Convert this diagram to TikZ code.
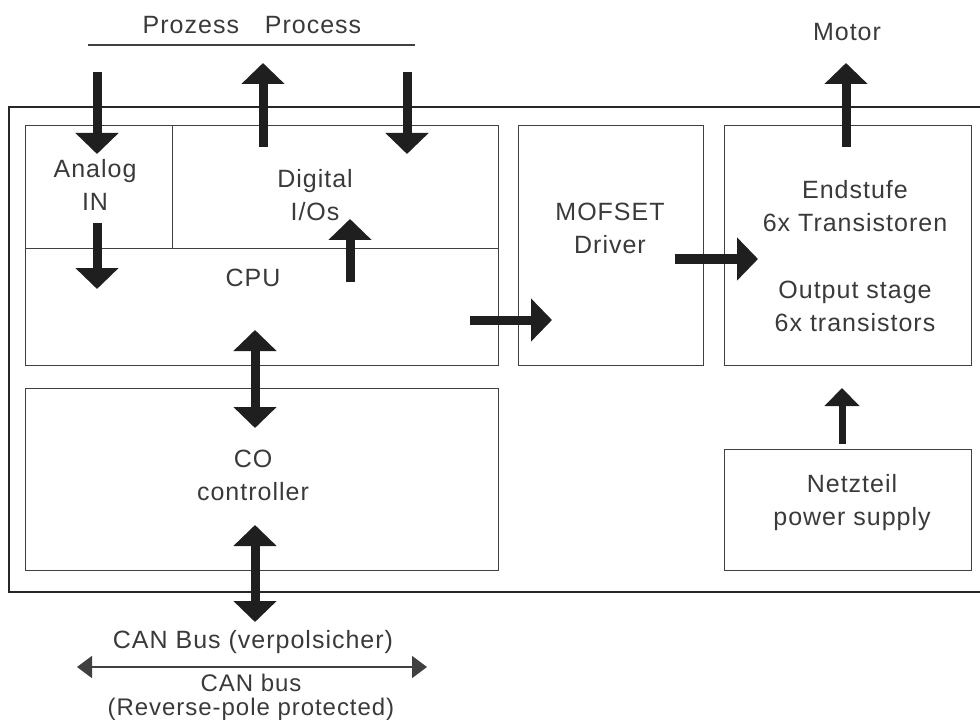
\documentclass[tikz,border=0pt]{standalone}
\usepackage{fontspec}
\setmainfont[LetterSpace=4]{Liberation Sans}
\usetikzlibrary{arrows.meta}
\definecolor{txtgray}{HTML}{3A3A3A}
\definecolor{linegray}{HTML}{404040}
\tikzset{
  x=1pt, y=-1pt,
  blockbox/.style={draw=linegray, line width=1.4pt, inner sep=0pt, anchor=north west, fill=none},
  lbl/.style={font=\fontsize{25}{33}\selectfont, text=txtgray, align=center, inner sep=0pt},
  fatarrow/.style={line width=9pt, draw=black!88, -{Triangle[width=42pt,length=21pt]}},
  fatdbl/.style={line width=9pt, draw=black!88, {Triangle[width=42pt,length=21pt]}-{Triangle[width=42pt,length=21pt]}},
  smallarrow/.style={line width=7pt, draw=black!88, -{Triangle[width=34pt,length=18pt]}},
  thinbus/.style={line width=1.5pt, draw=linegray, {Triangle[width=22pt,length=15pt]}-{Triangle[width=22pt,length=15pt]}},
}
\begin{document}
\begin{tikzpicture}
\useasboundingbox (0,0) rectangle (980,722);
% outer housing (open to the right)
\draw[draw=black!85, line width=2pt] (985,107) -- (9,107) -- (9,592) -- (985,592);

% boxes
\node[blockbox, minimum width=147pt, minimum height=123pt] (analog) at (25,125) {};
\node[blockbox, minimum width=326pt, minimum height=123pt] (digital) at (172,125) {};
\node[blockbox, minimum width=473pt, minimum height=117pt] (cpu) at (25,248) {};
\node[blockbox, minimum width=473pt, minimum height=182pt] (co) at (25,388) {};
\node[blockbox, minimum width=185pt, minimum height=240pt] (mos) at (518,125) {};
\node[blockbox, minimum width=247pt, minimum height=240pt] (end) at (724,125) {};
\node[blockbox, minimum width=247pt, minimum height=121pt] (psu) at (724,449) {};

% texts
\node[lbl] (tproc) at (252,25) {Prozess\hspace{18pt} Process};
\coordinate (pl) at (88,45);
\coordinate (pr) at (415,45);
\draw[draw=linegray, line width=1.2pt] (pl) -- (pr);
\node[lbl] (tmotor) at (847,32) {Motor};
\node[lbl] (tanalog) at (95,185) {Analog\\IN};
\node[lbl] (tdig) at (315,195) {Digital\\I/Os};
\node[lbl] (tcpu) at (253,278) {CPU};
\node[lbl] (tco) at (253,475) {CO\\controller};
\node[lbl] (tmos) at (610,228) {MOFSET\\Driver};
\node[lbl] (tend) at (855,206) {Endstufe\\6x Transistoren};
\node[lbl] (tout) at (855,306) {Output stage\\6x transistors};
\node[lbl] (tpsu) at (852,503) {Netzteil\\power supply};
\node[lbl] (tcan1) at (253,642) {CAN Bus (verpolsicher)};
\node[lbl, font=\fontsize{24}{24}\selectfont] (tcan2) at (251,697) {CAN bus\\(Reverse-pole protected)};

% arrow end points
\coordinate (a1s) at (97,72);   \coordinate (a1e) at (97,154);
\coordinate (a2s) at (263,147); \coordinate (a2e) at (263,63);
\coordinate (a3s) at (407,72);  \coordinate (a3e) at (407,154);
\coordinate (a4s) at (97,223);  \coordinate (a4e) at (97,289);
\coordinate (a5s) at (350,282); \coordinate (a5e) at (350,219);
\coordinate (a6s) at (255,330); \coordinate (a6e) at (255,428);
\coordinate (a7s) at (255,525); \coordinate (a7e) at (255,622);
\coordinate (a8s) at (470,320); \coordinate (a8e) at (552,320);
\coordinate (a9s) at (675,259); \coordinate (a9e) at (758,259);
\coordinate (a10s) at (846,147); \coordinate (a10e) at (846,63);
\coordinate (a11s) at (842,444); \coordinate (a11e) at (842,388);
\coordinate (bl) at (77,667);   \coordinate (br) at (427,667);

% arrows
\draw[fatarrow] (a1s) -- (a1e);
\draw[fatarrow] (a2s) -- (a2e);
\draw[fatarrow] (a3s) -- (a3e);
\draw[fatarrow] (a4s) -- (a4e);
\draw[fatarrow] (a5s) -- (a5e);
\draw[fatdbl] (a6s) -- (a6e);
\draw[fatdbl] (a7s) -- (a7e);
\draw[fatarrow] (a8s) -- (a8e);
\draw[fatarrow] (a9s) -- (a9e);
\draw[fatarrow] (a10s) -- (a10e);
\draw[smallarrow] (a11s) -- (a11e);
\draw[thinbus] (bl) -- (br);
\end{tikzpicture}
\end{document}
